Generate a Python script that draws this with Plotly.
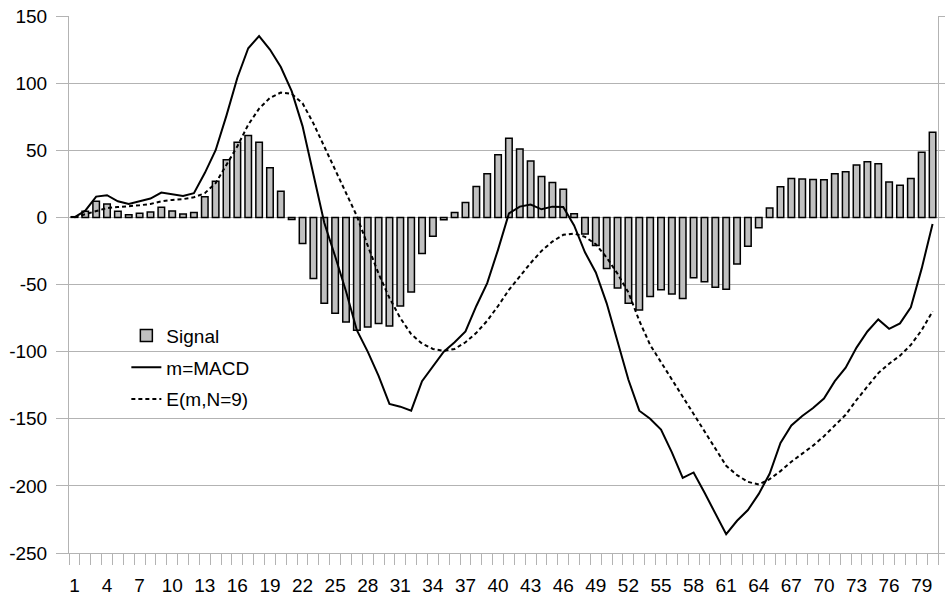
import plotly.graph_objects as go

periods = list(range(1, 81))

signal = [0.5, 4.5, 12, 10, 4.5, 2, 3, 4, 7.5, 4.7,
          2.5, 3.7, 15.4, 27, 43, 56, 61, 56, 37, 19.4,
          -1.5, -19.5, -45.5, -64, -71.5, -78, -84, -81.6, -79, -81,
          -66, -55.5, -27, -14, -1.7, 3.7, 11, 23, 32.5, 46.6,
          59, 51, 42, 30.5, 26, 21, 2.7, -12.4, -21, -38,
          -52.6, -64, -69, -59, -54, -57, -60.5, -45, -48, -52,
          -53.5, -34.7, -21.6, -7.7, 7, 22.8, 29, 28.5, 28.3, 28,
          32.5, 34, 39, 41.4, 40, 26.3, 24, 29, 48.6, 63.5]

macd = [0, 5, 15.5, 16.5, 12, 10, 12, 14, 18.5, 17,
        16, 18, 33, 50, 76, 104, 126, 135, 125, 112,
        94, 68, 33, -4, -29, -55, -84, -100, -118, -139,
        -141, -144, -122, -111, -100, -93, -85, -66, -49, -24,
        3, 8, 9.5, 6, 8, 7.7, -6, -26, -41, -64,
        -93, -121, -144, -150, -158, -175, -194, -190, -205, -221,
        -236, -226, -218, -206, -191, -168, -155, -148, -142, -135,
        -122, -112, -97, -85, -76, -83, -79, -67, -38, -5]

ema = [0, 2.5, 5, 7, 7.7, 8.2, 9, 10, 12, 13,
       13.6, 15, 18, 25.5, 39, 53, 69, 81, 89, 93,
       92, 85, 70, 53, 35.5, 18, 1, -21, -42, -60,
       -75, -87, -94, -98, -99.5, -98, -93, -86, -77, -66,
       -54, -44, -34, -25, -18, -13, -12, -14.5, -20, -30,
       -42, -56, -77, -95, -108, -121, -134, -147, -160, -173,
       -185, -192, -197, -199, -195, -189, -182, -176, -170, -163,
       -155, -147, -136, -126, -116, -109, -103, -95, -84, -70]

x_tickvals = list(range(1, 81, 3))
x_ticktext = [str(v) for v in x_tickvals]
y_tickvals = [150, 100, 50, 0, -50, -100, -150, -200, -250]
y_ticktext = ["150", "100", "50", "0", "-50", "-100", "-150", "-200", "-250"]

FONT = "Liberation Sans, Arial, sans-serif"
GRID = "#b3b3b3"

fig = go.Figure()
fig.add_trace(go.Bar(
    x=periods, y=signal, name="Signal", legendgroup="a",
    marker=dict(color="#c0c0c0", line=dict(color="black", width=1.5)),
))
fig.add_trace(go.Scatter(
    x=periods, y=macd, name="m=MACD", mode="lines", legendgroup="b",
    line=dict(color="black", width=2),
))
fig.add_trace(go.Scatter(
    x=periods, y=ema, name="E(m,N=9)", mode="lines", legendgroup="c",
    line=dict(color="black", width=2, dash="4px,3px"),
))

fig.update_layout(
    width=945, height=599,
    margin=dict(l=69, r=7, t=16, b=46, autoexpand=False),
    paper_bgcolor="white", plot_bgcolor="white",
    font=dict(family=FONT, size=19, color="black"),
    bargap=0.4,
    showlegend=True,
    legend=dict(x=0.066, y=0.44, xanchor="left", yanchor="top",
                bgcolor="rgba(0,0,0,0)", borderwidth=0,
                font=dict(size=19), tracegroupgap=4,
                traceorder="grouped"),
    xaxis=dict(
        range=[0.5, 80.5], tickmode="array", tickvals=x_tickvals, ticktext=x_ticktext,
        ticks="", showgrid=False, zeroline=False, automargin=False,
        showline=True, linecolor=GRID, linewidth=1,
        ticklabelstandoff=15, ticklabeloverflow="allow",
        minor=dict(ticks="outside", tick0=0.5, dtick=1, ticklen=11,
                   tickcolor=GRID, tickwidth=1, showgrid=False),
    ),
    yaxis=dict(
        range=[-250, 150], tickmode="array", tickvals=y_tickvals, ticktext=y_ticktext,
        ticks="outside", ticklen=12, tickcolor=GRID, tickwidth=1,
        showgrid=True, gridcolor=GRID, gridwidth=1, automargin=False,
        zeroline=False, showline=True, linecolor=GRID, linewidth=1,
        mirror="ticks", ticklabelstandoff=5, ticklabeloverflow="allow",
    ),
)

# remove the default 8px page margin so the figure fills the window exactly
fig.write_html("out.html",
               config={"displayModeBar": False},
               post_script="document.body.style.margin='0';document.body.style.overflow='hidden';")
